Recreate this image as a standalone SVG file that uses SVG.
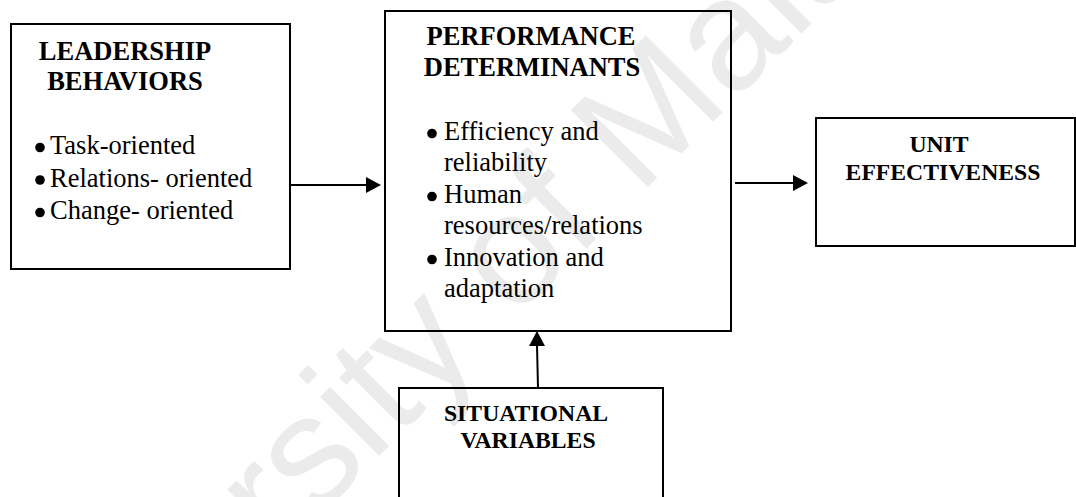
<svg xmlns="http://www.w3.org/2000/svg" width="1076" height="497" viewBox="0 0 1076 497">
  <style>
    .box { fill: none; stroke: #000; stroke-width: 2; }
    .head { font-family: "Liberation Serif", "Times New Roman", serif; font-weight: bold; fill: #000; text-anchor: middle; }
    .item { font-family: "Liberation Serif", "Times New Roman", serif; font-size: 26.5px; fill: #000; }
    .big { font-size: 26.5px; }
    .small { font-size: 23.7px; }
    .dot { fill: #000; }
    .wire { stroke: #000; stroke-width: 2; fill: none; }
    .tip { fill: #000; stroke: none; }
    .mark { font-family: "Liberation Sans", Arial, sans-serif; font-size: 158px; fill: #ebebeb; }
  </style>

  <rect width="1076" height="497" fill="#fff"/>

  <!-- faint diagonal watermark -->
  <text class="mark" transform="translate(-7,842) rotate(-45)">University of Malaya</text>

  <g id="leadership-behaviors">
    <rect class="box" x="11" y="24" width="279" height="245"/>
    <text class="head big" x="125" y="60">LEADERSHIP</text>
    <text class="head big" x="125" y="90">BEHAVIORS</text>
    <circle class="dot" cx="40" cy="147.5" r="4.8"/>
    <text class="item" x="50" y="154">Task-oriented</text>
    <circle class="dot" cx="40" cy="180" r="4.8"/>
    <text class="item" x="50" y="187">Relations- oriented</text>
    <circle class="dot" cx="40" cy="212.5" r="4.8"/>
    <text class="item" x="50" y="219">Change- oriented</text>
  </g>

  <g id="performance-determinants">
    <rect class="box" x="385" y="11" width="346" height="320"/>
    <text class="head big" x="531" y="45">PERFORMANCE</text>
    <text class="head big" x="532" y="76">DETERMINANTS</text>
    <circle class="dot" cx="432" cy="133.5" r="4.8"/>
    <text class="item" x="444" y="140">Efficiency and</text>
    <text class="item" x="444" y="171">reliability</text>
    <circle class="dot" cx="432" cy="196.5" r="4.8"/>
    <text class="item" x="444" y="203">Human</text>
    <text class="item" x="444" y="234">resources/relations</text>
    <circle class="dot" cx="432" cy="259.5" r="4.8"/>
    <text class="item" x="444" y="266">Innovation and</text>
    <text class="item" x="444" y="297">adaptation</text>
  </g>

  <g id="unit-effectiveness">
    <rect class="box" x="816" y="118" width="259" height="128"/>
    <text class="head small" x="939" y="152">UNIT</text>
    <text class="head small" x="943" y="180">EFFECTIVENESS</text>
  </g>

  <g id="situational-variables">
    <rect class="box" x="399" y="388" width="264" height="130"/>
    <text class="head small" x="526" y="421">SITUATIONAL</text>
    <text class="head small" x="528" y="448">VARIABLES</text>
  </g>

  <g id="connectors">
    <line class="wire" x1="290" y1="185" x2="367" y2="185"/>
    <polygon class="tip" points="366,177 381,185 366,193"/>
    <line class="wire" x1="735" y1="183" x2="794" y2="183"/>
    <polygon class="tip" points="793,175 808,183 793,191"/>
    <line class="wire" x1="538" y1="388" x2="537" y2="345"/>
    <polygon class="tip" points="529,346 537,331 545,346"/>
  </g>
</svg>
